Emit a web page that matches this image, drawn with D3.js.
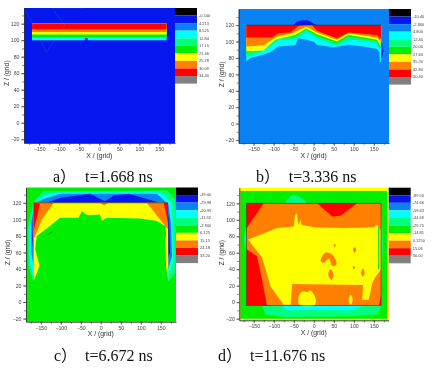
<!DOCTYPE html>
<html>
<head>
<meta charset="utf-8">
<script src="https://cdn.jsdelivr.net/npm/d3@7"></script>
<style>
  html, body { margin: 0; background: #fff; }
  svg { display: block; filter: blur(0.55px); }
</style>
</head>
<body>
<svg id="chart" width="434" height="373"></svg>
<script>
const xTicks = [-150, -100, -50, 0, 50, 100, 150];
const xMinor = d3.range(-175, 176, 25);
const zTicks = [-20, 0, 20, 40, 60, 80, 100, 120];
const zMinor = d3.range(-20, 131, 10);

const bandColors = ['#000000', '#0616ee', '#0a82f5', '#00ffff', '#00ff80', '#00ee00', '#ffff00', '#ff8000', '#ff0000', '#808080'];

const legendA = ['-0.100', '4.213', '8.525', '12.84', '17.15', '21.46', '25.78', '30.09', '34.40'];
const legendB = ['-10.40', '-2.800', '4.800', '12.40', '20.00', '27.60', '35.20', '42.80', '50.40'];
const legendC = ['-39.00', '-29.98', '-20.95', '-11.92', '-2.900', '6.125', '15.15', '24.18', '33.20'];
const legendD = ['-89.50', '-74.66', '-59.63', '-44.69', '-29.75', '-14.81', '0.1250', '15.06', '30.00'];

// a) flat layers under the top plate
const aCyan = [[-168, 100], [168, 100], [168, 120], [-168, 120]];
const aNotch = [[-36, 99], [-36, 104], [-33, 106], [-29, 104], [-29, 99]];
const aSpring = [[-168, 102.5], [168, 102.5], [168, 120], [-168, 120]];
const aGreen = [[-168, 103.7], [168, 103.7], [168, 120], [-168, 120]];
const aYellow = [[-168, 107], [168, 107], [168, 120], [-168, 120]];
const aOrange = [[-168, 110], [168, 110], [168, 120], [-168, 120]];
const aRed = [[-168, 113.4], [168, 113.4], [168, 120], [-168, 120]];
const aTraceA = [[-184, 136], [-132, 85], [-86, 118], [-118, 139]];
const aTraceB = [[-115, 139], [-36, 139]];

// b) lower edge of each contour, closed along z = 120
const bDome = [[-50, 120], [-42, 124], [-30, 126], [-15, 126], [-3, 123], [6, 120]];
const bSide = [[164, 105], [170, 98], [174, 88], [170, 80], [167, 80]];
const bCyan = [[-168, 76], [-158, 80], [-133, 83], [-108, 87], [-89, 94], [-46, 95.5], [-39, 104], [-17, 102], [2, 99.5], [7, 96], [50, 93], [87, 96], [125, 94], [158, 91], [164, 87], [165, 75], [168, 75], [169, 97]];
const bSpring = [[-168, 81], [-133, 87], [-104, 95], [-89, 101], [-46, 103], [-18, 112], [0, 106], [25, 101], [58, 95], [87, 102], [125, 101], [158, 98], [166, 88]];
const bGreen = [[-168, 86], [-117, 96], [-92, 104], [-46, 106], [-18, 115], [8, 107], [58, 98], [87, 106], [158, 101], [165, 91]];
const bYellow = [[-168, 88], [-125, 89], [-96, 102], [-46, 108], [-18, 116], [8, 109], [58, 100], [87, 108], [158, 102], [167, 94]];
const bOrange = [[-168, 94], [-125, 95.5], [-92, 106], [-54, 110], [-18, 118], [8, 111], [58, 102], [87, 110], [158, 105], [167, 100]];
const bRed = [[-168, 105], [-104, 105], [-88, 110], [-58, 111], [-38, 119], [-23, 120], [-4, 120], [8, 113], [58, 104], [87, 111], [158, 108], [168, 103]];

// c) field outside the plate, then the inside of the plate
const cSpring = [[-171, 28], [-181, 44], [-182, 92], [-168, 122], [-143, 134], [165, 135], [186, 124], [187, 60], [186, 35], [169, 25]];
const cCyan = [[-168, 31], [-177, 44], [-178, 88], [-168, 116], [-147, 128], [-110, 133], [148, 133], [178, 120], [182, 52], [169, 31]];
const cAzure = [[-168, 44], [-174, 60], [-174, 96], [-166, 118], [-147, 124], [-102, 131], [140, 131], [169, 118], [175, 96], [178, 56], [169, 40]];
const cBlue = [[-168, 60], [-172, 76], [-170, 100], [-168, 119], [-143, 119], [-102, 126], [-60, 129], [-27, 131], [-2, 125], [11, 122], [32, 129], [69, 131], [107, 126], [140, 121], [165, 116], [171, 100], [173, 60], [167, 52]];
const cInside = [[-168, 20], [168, 20], [168, 120], [-168, 120]];
const cYellow = [[-168, 25], [-153, 44], [-164, 64], [-160, 80], [-127, 92], [-102, 102], [-56, 102], [-47, 110], [-37, 106], [-27, 105], [-2, 106], [2, 98], [15, 102], [98, 101], [140, 98], [161, 92], [163, 44], [169, 25], [168, 120], [-168, 120]];
const cOrangeLeft = [[-168, 120], [-168, 76], [-147, 100], [-118, 120]];
const cOrangeRight = [[168, 120], [168, 88], [148, 100], [115, 120]];
const cOrangeTop = [[-2, 120], [8, 117], [20, 120]];
const cRedLeft = [[-168, 120], [-168, 86], [-152, 119]];
const cRedRight = [[168, 120], [168, 96], [157, 120]];
const cDashA = [[-135, 81], [-118, 86]];
const cDashB = [[161, 92], [162, 78]];
const cDashC = [[161, 49], [161, 44]];

// d) plate is mostly orange, yellow island in the middle
const dGreen = [[-183, -20], [183, -20], [183, 135], [-183, 135]];
const dSpringTop = [[-71, 120], [-50, 130], [-17, 120]];
const dSpringBottom = [[-129, -4], [-121, -15], [-75, -18], [92, -17], [158, -15], [171, -3]];
const dCyanBottom = [[-83, -4], [-62, -10], [8, -9], [87, -10], [129, -4]];
const dSpringLeft = [[-168, 96], [-174, 76], [-168, 58]];
const dCyanLeft = [[-168, 90], [-171, 76], [-168, 64]];
const dSpringRight = [[168, 112], [173, 70], [168, 30]];
const dPlate = [[-168, -4], [168, -4], [168, 120], [-168, 120]];
const dRedTopLeft = [[-168, 120], [-167, 90], [-125, 120]];
const dRedLowLeft = [[-167, 64], [-142, 56], [-129, 27], [-117, -4], [-168, -4]];
const dRedTop = [[8, 120], [46, 104], [67, 105], [108, 120]];
const dRedLowRight = [[163, -4], [167, 9], [168, -4]];
const dYellow = [[-164, 76], [-133, 82], [-92, 90], [-50, 92], [-47, 106], [-42, 108], [-39, 94], [-33, 100], [-31, 94], [0, 91], [75, 90], [150, 91], [158, 94], [167, 88], [167, 39], [154, 31], [146, 23], [137, 3], [121, 3], [123, 21], [-54, 22], [-58, -3], [-75, -3], [-108, 19], [-129, 54]];
const dRing = [[17, 50], [29, 60], [46, 58], [57, 46], [46, 44], [38, 53], [25, 48]];
const dSpot1 = [[36, 34], [42, 40], [49, 34], [44, 27]];
const dSpot2 = [[98, 64], [102, 67], [106, 64], [102, 60]];
const dSpot3 = [[97, 42], [100, 44], [103, 42], [100, 40]];
const dSpot4 = [[118, 36], [123, 41], [127, 36], [123, 31]];
const dSpot5 = [[50, 69], [52, 71], [55, 69], [52, 67]];
const dBlobA = [[-38, 6], [-28, 13], [-16, 12], [-8, 14], [4, 5], [3, -3], [-36, -3]];
const dBlobB = [[87, 3], [92, 9], [97, 3], [92, -3]];
const dStreak = [[160.5, 92], [163.5, 92], [163.5, 40], [160.5, 40]];

const panels = [
  { left: 24, right: 175, top: 8, bottom: 143, zTop: 139, zBottom: -24.6, legend: legendA, bg: 1,
    xDomain: [-188, 189], capA: 'a）', capAx: 53, capBx: 85, capY: 182, zTitleX: 9, xTitleY: 158,
    layers: [[aCyan, 3], [aNotch, 1], [aSpring, 4], [aGreen, 5], [aYellow, 6], [aOrange, 7], [aRed, 8]], cap: 't=1.668 ns',
    traces: [aTraceA, aTraceB], traceColor: '#30c8a0', traceOpacity: 0.35 },
  { left: 238.7, right: 389, top: 9, bottom: 143, zTop: 139.6, zBottom: -23.6, legend: legendB, bg: 2,
    xDomain: [-187, 188], capA: 'b）', capAx: 256, capBx: 288.7, capY: 182, zTitleX: 224, xTitleY: 158,
    layers: [[bDome, 1], [bSide, 1], [closeTop(bCyan), 3], [closeTop(bSpring), 4], [closeTop(bGreen), 5], [closeTop(bYellow), 6], [closeTop(bOrange), 7], [closeTop(bRed), 8]], cap: 't=3.336 ns', plate: [[-168, 120], [168, 120]] },
  { left: 26, right: 176, top: 187.5, bottom: 321.7, zTop: 138.6, zBottom: -23.8, legend: legendC, bg: 5,
    xDomain: [-187, 188], capA: 'c）', capAx: 54, capBx: 85, capY: 361, zTitleX: 10, xTitleY: 336,
    layers: [[cSpring, 4], [cCyan, 3], [cAzure, 2], [cBlue, 1], [cInside, 5], [cYellow, 6], [cOrangeLeft, 7], [cOrangeRight, 7], [cOrangeTop, 7], [cRedLeft, 8], [cRedRight, 8]], cap: 't=6.672 ns', plate: [[-168, 120], [168, 120]],
    traces: [cDashA, cDashB, cDashC], traceColor: '#205020', traceOpacity: 0.8 },
  { left: 239.3, right: 388.7, top: 187.7, bottom: 320.3, zTop: 139, zBottom: -22, legend: legendD, bg: 6,
    xDomain: [-186, 187], capA: 'd）', capAx: 218, capBx: 250, capY: 361, zTitleX: 224, xTitleY: 335,
    layers: [[dGreen, 5], [dSpringTop, 4, true], [dSpringBottom, 4], [dCyanBottom, 3], [dSpringLeft, 4], [dCyanLeft, 3], [dSpringRight, 4], [dPlate, 7], [dRedTopLeft, 8], [dRedLowLeft, 8], [dRedTop, 8], [dRedLowRight, 8], [dYellow, 6], [dRing, 7, true], [dSpot1, 7, true], [dSpot2, 7, true], [dSpot3, 7, true], [dSpot4, 7, true], [dSpot5, 7, true], [dBlobA, 6, true], [dBlobB, 6, true], [dStreak, 5]], cap: 't=11.676 ns', plate: [[-168, 120], [168, 120], [168, -4], [-168, -4], [-168, 120]] }
];

function closeTop(edge) {
  return [[edge[0][0], 120]].concat(edge, [[edge[edge.length - 1][0], 120]]);
}

const svg = d3.select('#chart');
const font = 'Liberation Sans, Arial, sans-serif';

panels.forEach(function (p, i) {
  const x = d3.scaleLinear().domain(p.xDomain).range([p.left, p.right]);
  const z = d3.scaleLinear().domain([p.zBottom, p.zTop]).range([p.bottom, p.top]);
  const g = svg.append('g');

  const clipId = 'clip' + i;
  g.append('clipPath').attr('id', clipId).append('rect')
    .attr('x', p.left).attr('y', p.top)
    .attr('width', p.right - p.left).attr('height', p.bottom - p.top);

  g.append('rect')
    .attr('x', p.left).attr('y', p.top)
    .attr('width', p.right - p.left).attr('height', p.bottom - p.top)
    .attr('fill', bandColors[p.bg]);

  const line = d3.line().x(function (d) { return x(d[0]); }).y(function (d) { return z(d[1]); });
  const smooth = d3.line().x(function (d) { return x(d[0]); }).y(function (d) { return z(d[1]); }).curve(d3.curveCatmullRomClosed);
  const marks = g.append('g').attr('clip-path', 'url(#' + clipId + ')');
  marks.selectAll('path.layer').data(p.layers).join('path')
    .attr('class', 'layer')
    .attr('d', function (d) { return d[2] ? smooth(d[0]) : line(d[0]) + 'Z'; })
    .attr('fill', function (d) { return bandColors[d[1]]; });

  if (p.plate) {
    marks.append('path').attr('d', line(p.plate))
      .attr('fill', 'none').attr('stroke', '#402028').attr('stroke-width', 0.55);
  }
  if (p.traces) {
    marks.selectAll('path.trace').data(p.traces).join('path')
      .attr('class', 'trace')
      .attr('d', function (d) { return line(d); })
      .attr('fill', 'none').attr('stroke', p.traceColor).attr('stroke-width', 0.5).attr('opacity', p.traceOpacity);
  }

  // axes, major and minor ticks
  const xMaj = d3.axisBottom(x).tickValues(xTicks).tickSize(3).tickPadding(1.5).tickSizeOuter(0);
  const xMin = d3.axisBottom(x).tickValues(xMinor).tickSize(2).tickFormat('').tickSizeOuter(0);
  const zMaj = d3.axisLeft(z).tickValues(zTicks).tickSize(3).tickPadding(1.5).tickSizeOuter(0);
  const zMin = d3.axisLeft(z).tickValues(zMinor).tickSize(2).tickFormat('').tickSizeOuter(0);
  [[xMin, 'b'], [xMaj, 'b'], [zMin, 'l'], [zMaj, 'l']].forEach(function (a) {
    const ag = g.append('g')
      .attr('transform', a[1] === 'b' ? 'translate(0,' + p.bottom + ')' : 'translate(' + p.left + ',0)')
      .call(a[0]);
    ag.selectAll('line, path').attr('stroke', '#333').attr('stroke-width', 0.6);
    ag.selectAll('text').attr('font-family', font).attr('font-size', 5.2).attr('fill', '#444');
  });

  g.append('text').text('X / (grid)')
    .attr('x', x(0)).attr('y', p.xTitleY).attr('text-anchor', 'middle')
    .attr('font-family', font).attr('font-size', 6.8).attr('fill', '#333');
  g.append('text').text('Z / (grid)')
    .attr('transform', 'translate(' + p.zTitleX + ',' + z(60) + ') rotate(-90)')
    .attr('text-anchor', 'middle')
    .attr('font-family', font).attr('font-size', 6.8).attr('fill', '#333');

  // legend: nine levels sit on the edges of ten bands
  const legendX = p.right;
  const legendW = 22;
  const legendTop = p.top;
  const legendBottom = p.top + 75.6;
  const band = d3.scaleBand().domain(d3.range(bandColors.length)).range([legendTop, legendBottom]);
  g.selectAll('rect.band').data(bandColors).join('rect')
    .attr('class', 'band')
    .attr('x', legendX).attr('y', function (d, j) { return band(j); })
    .attr('width', legendW).attr('height', band.bandwidth())
    .attr('fill', function (d) { return d; });
  g.selectAll('text.level').data(p.legend).join('text')
    .attr('class', 'level')
    .text(function (d) { return d; })
    .attr('x', legendX + legendW + 2)
    .attr('y', function (d, j) { return band(j + 1) + 1.4; })
    .attr('font-family', font).attr('font-size', 4).attr('fill', '#444');

  // caption
  g.append('text').text(p.capA)
    .attr('x', p.capAx).attr('y', p.capY)
    .attr('font-family', 'Liberation Serif, Noto Sans CJK SC, serif').attr('font-size', 16).attr('fill', '#111');
  g.append('text').text(p.cap)
    .attr('x', p.capBx).attr('y', p.capY)
    .attr('font-family', 'Liberation Serif, serif').attr('font-size', 16).attr('fill', '#111');
});
</script>
</body>
</html>
